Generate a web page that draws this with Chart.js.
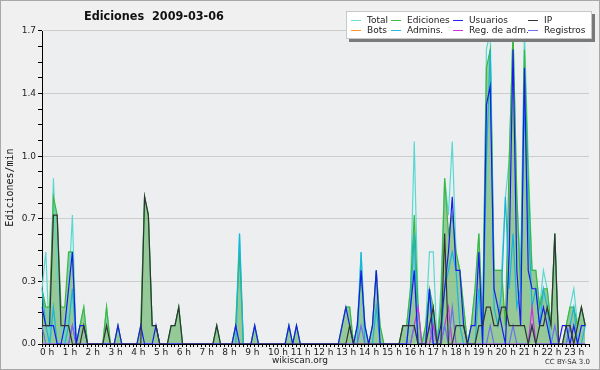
<!DOCTYPE html>
<html>
<head>
<meta charset="utf-8">
<script src="https://cdn.jsdelivr.net/npm/chart.js@4.4.1/dist/chart.umd.min.js"></script>
<style>
  html, body { margin: 0; padding: 0; background: #f0f0f0; }
  #wrap { position: relative; width: 600px; height: 370px; overflow: hidden; font-family: "DejaVu Sans", sans-serif; }
  #frame { position: absolute; left: 0; top: 0; width: 600px; height: 370px; box-sizing: border-box; border: 1px solid #a8a8a8; pointer-events: none; }
  canvas { position: absolute; left: 0; top: 0; }
  #title { position: absolute; left: 84px; top: 8px; font-family: "DejaVu Sans Condensed", "DejaVu Sans", sans-serif; font-stretch: condensed; font-weight: bold; font-size: 12.5px; color: #111; white-space: pre; }
  #legend { position: absolute; left: 346px; top: 11px; width: 244px; height: 26px; background: #fff; border: 1px solid #c8c8c8; box-shadow: 3px 3px 0 #7a7a7a; font-size: 9px; }
  .item { position: absolute; white-space: nowrap; color: #222; line-height: 10px; }
  .sw { display: inline-block; width: 10px; height: 1px; vertical-align: middle; margin-right: 6px; }
  #site { position: absolute; left: 0; width: 600px; text-align: center; top: 355px; font-size: 9px; color: #222; }
  #lic { position: absolute; right: 10px; top: 358px; font-size: 7px; color: #333; }
</style>
</head>
<body>
<div id="wrap">
  <canvas id="chart" width="600" height="370"></canvas>
  <div id="title">Ediciones  2009-03-06</div>
  <div id="legend"></div>
  <div id="site">wikiscan.org</div>
  <div id="lic">CC BY-SA 3.0</div>
  <div id="frame"></div>
</div>
<script>
// etiquetas de horas (cada 10 min hay una marca)
const hourLabels = ['0 h','1 h','2 h','3 h','4 h','5 h','6 h','7 h','8 h','9 h','10 h','11 h',
  '12 h','13 h','14 h','15 h','16 h','17 h','18 h','19 h','20 h','21 h','22 h','23 h'];
const yTickLabels = ['0.0', '0.3', '0.7', '1.0', '1.4', '1.7'];

// ediciones por minuto, intervalos de 10 min (6 por hora)
const total = [
  0.3,0.5,0,0.9,0.4,0.1,  0,0.3,0.7,0,0.1,0.2,
  0,0,0,0,0,0.2,  0,0,0.1,0,0,0,
  0,0,0.1,0.8,0.7,0.1,  0.1,0,0,0,0.1,0.1,
  0.2,0,0,0,0,0,  0,0,0,0,0.1,0,
  0,0,0,0.1,0.6,0,  0,0,0.1,0,0,0,
  0,0,0,0,0,0.1,  0,0.1,0,0,0,0,
  0,0,0,0,0,0,  0,0.1,0.2,0.2,0,0.1,
  0.5,0.1,0,0.1,0.4,0.1,  0,0,0,0,0,0.1,
  0.1,0.3,1.1,0.2,0,0.1,  0.5,0.5,0,0.3,0.9,0.7,
  1.1,0.5,0.4,0.2,0,0.1,  0.3,0.6,0.1,1.6,1.7,0.4,
  0.4,0.4,0.8,1.0,1.7,0.8,  0.4,1.7,1.0,0.4,0.4,0.2,
  0.4,0.3,0.1,0.6,0,0,  0.1,0.2,0.3,0.1,0.2,0.1
];
const ediciones = [
  0.3,0.2,0.2,0.8,0.7,0.2,  0.2,0.5,0.5,0,0.1,0.2,
  0,0,0,0,0,0.2,  0,0,0.1,0,0,0,
  0,0,0.1,0.8,0.7,0.1,  0.1,0,0,0,0.1,0.1,
  0.2,0,0,0,0,0,  0,0,0,0,0.1,0,
  0,0,0,0.1,0.5,0,  0,0,0.1,0,0,0,
  0,0,0,0,0,0.1,  0,0.1,0,0,0,0,
  0,0,0,0,0,0,  0,0.1,0.2,0.2,0,0.1,
  0.4,0.1,0,0.1,0.4,0.1,  0,0,0,0,0,0.1,
  0.1,0.3,0.7,0.2,0,0.1,  0.3,0.2,0,0.2,0.9,0.6,
  0.7,0.5,0.4,0.2,0,0.1,  0.3,0.6,0.1,1.5,1.6,0.4,
  0.4,0.4,0.1,1.0,1.7,0.8,  0.3,1.6,0.9,0.4,0.4,0.2,
  0.3,0.3,0.1,0.6,0,0,  0.1,0.2,0.2,0.1,0.2,0.1
];
const usuarios = [
  0.2,0.1,0.1,0.1,0,0,  0.1,0.3,0.5,0,0.1,0.1,
  0,0,0,0,0,0,  0,0,0.1,0,0,0,
  0,0,0.1,0,0,0,  0.1,0,0,0,0,0,
  0,0,0,0,0,0,  0,0,0,0,0,0,
  0,0,0,0.1,0,0,  0,0,0.1,0,0,0,
  0,0,0,0,0,0.1,  0,0.1,0,0,0,0,
  0,0,0,0,0,0,  0,0.1,0.2,0.1,0,0.1,
  0.4,0.1,0,0.1,0.4,0,  0,0,0,0,0,0,
  0,0.2,0.4,0,0,0,  0.3,0,0,0.1,0.3,0.5,
  0.8,0.4,0.4,0.1,0,0.1,  0.1,0.5,0,1.3,1.4,0.3,
  0.2,0.1,0,0.5,1.6,0.4,  0.1,1.5,0.4,0.3,0.3,0.1,
  0.2,0.1,0,0,0,0.1,  0.1,0,0.1,0,0.1,0.1
];
const ip = [
  0.1,0.1,0.1,0.7,0.7,0.1,  0.1,0.1,0,0,0,0.1,
  0,0,0,0,0,0.1,  0,0,0,0,0,0,
  0,0,0,0.8,0.7,0.1,  0.1,0,0,0,0.1,0.1,
  0.2,0,0,0,0,0,  0,0,0,0,0.1,0,
  0,0,0,0,0,0,  0,0,0,0,0,0,
  0,0,0,0,0,0,  0,0,0,0,0,0,
  0,0,0,0,0,0,  0,0,0,0.1,0,0,
  0,0,0,0,0,0,  0,0,0,0,0,0.1,
  0.1,0.1,0.1,0,0,0,  0.1,0.2,0,0,0.6,0,
  0,0.1,0.1,0.1,0,0,  0,0.1,0.1,0.2,0.2,0.1,
  0.1,0.2,0.2,0.1,0.1,0.1,  0.1,0.1,0,0.1,0,0.1,
  0.1,0.2,0.1,0.6,0,0,  0.1,0.1,0,0.1,0.2,0.1
];
const admins = [
  0.3,0.1,0,0.2,0,0,  0,0.1,0.3,0,0,0,
  0,0,0,0,0,0,  0,0,0,0,0,0,
  0,0,0,0,0,0,  0,0,0,0,0,0,
  0,0,0,0,0,0,  0,0,0,0,0,0,
  0,0,0,0,0.6,0,  0,0,0,0,0,0,
  0,0,0,0,0,0,  0,0,0,0,0,0,
  0,0,0,0,0,0,  0,0,0,0,0,0,
  0.5,0,0,0,0.2,0,  0,0,0,0,0,0,
  0,0.2,0.6,0,0,0,  0.3,0.1,0,0,0.3,0.4,
  0.5,0.4,0.1,0,0,0,  0,0.3,0,1.0,1.6,0.2,
  0.1,0.3,0.8,0.3,0.6,0.2,  0.3,1.3,0.7,0.2,0.3,0.1,
  0.3,0.2,0,0,0,0,  0,0.1,0.2,0,0,0.1
];
const registros = [
  0.1,0,0,0,0,0,  0,0,0.1,0,0,0,
  0,0,0,0,0,0,  0,0,0,0,0,0,
  0,0,0,0,0,0,  0,0,0,0,0,0,
  0,0,0,0,0,0,  0,0,0,0,0,0,
  0,0,0,0,0,0,  0,0,0,0,0,0,
  0,0,0,0,0,0,  0,0,0,0,0,0,
  0,0,0,0,0,0,  0,0,0,0,0,0,
  0.1,0,0,0,0,0,  0,0,0,0,0,0,
  0,0,0.1,0,0,0,  0.1,0,0,0,0.1,0,
  0.2,0,0,0,0,0,  0,0,0,0,0.1,0,
  0,0,0,0,0.1,0,  0,0,0,0.1,0,0,
  0,0,0,0.1,0,0,  0,0.1,0,0,0,0
];
const regAdm = [
  0,0,0,0,0,0,  0,0,0.1,0,0,0,
  0,0,0,0,0,0,  0,0,0,0,0,0,
  0,0,0,0,0,0,  0,0,0,0,0,0,
  0,0,0,0,0,0,  0,0,0,0,0,0,
  0,0,0,0,0,0,  0,0,0,0,0,0,
  0,0,0,0,0,0,  0,0,0,0,0,0,
  0,0,0,0,0,0,  0,0,0,0,0,0,
  0,0,0,0,0,0,  0,0,0,0,0,0,
  0,0,0.1,0.2,0,0,  0,0.1,0,0,0.1,0.2,
  0,0,0,0,0,0,  0,0,0,0,0,0,
  0,0,0,0,0,0,  0,0,0,0.2,0,0,
  0,0,0,0,0,0,  0,0,0,0,0,0
];

const legendItems = [
  ['Total', '#66dcd4'], ['Ediciones', '#44bb44'], ['Usuarios', '#2222ee'], ['IP', '#333333'],
  ['Bots', '#ff9922'], ['Admins.', '#22bbdd'], ['Reg. de adm.', '#cc33dd'], ['Registros', '#6f6ff0']
];

// 145 marcas: una etiqueta por hora, vacías entre medio
const slotLabels = [];
hourLabels.forEach(h => { slotLabels.push(h, '', '', '', '', ''); });
slotLabels.push('');

// yticks cada 0.085 (4 por tramo de grid)
const yTickValues = [];
for (let k = 0; k <= 20; k++) yTickValues.push(k * 0.085);

function buildLegend() {
  const box = document.getElementById('legend');
  const colX = [4, 44, 106, 181];
  const rowY = [3, 12.5];
  legendItems.forEach(([name, color], i) => {
    const el = document.createElement('div');
    el.className = 'item';
    el.style.left = colX[i % 4] + 'px';
    el.style.top = rowY[Math.floor(i / 4)] + 'px';
    el.innerHTML = `<span class="sw" style="background:${color}"></span>${name}`;
    box.appendChild(el);
  });
}

const plotBg = {
  id: 'plotBg',
  beforeDraw(chart) {
    const { ctx, chartArea: a } = chart;
    ctx.save();
    ctx.fillStyle = '#edeef0';
    ctx.fillRect(a.left, a.top, a.right - a.left, a.bottom - a.top);
    ctx.restore();
  }
};

function line(label, data, color, extra) {
  return Object.assign({ label, data, borderColor: color, borderWidth: 1.2, fill: false, pointRadius: 0, tension: 0 }, extra || {});
}

Chart.defaults.font.family = 'DejaVu Sans';

new Chart(document.getElementById('chart'), {
  type: 'line',
  data: {
    labels: slotLabels,
    datasets: [
      line('IP', ip, '#333333'),
      line('Usuarios', usuarios, '#1a1aee'),
      line('Registros', registros, '#6f6ff0'),
      line('Reg. de adm.', regAdm, '#cc33dd'),
      line('Admins.', admins, '#18b4dc'),
      line('Ediciones', ediciones, '#3cb83c', { fill: 'origin', backgroundColor: 'rgba(50,160,50,0.47)' }),
      line('Total', total, '#5ad8d0')
    ]
  },
  options: {
    responsive: false,
    animation: false,
    layout: { padding: { left: 0, right: 11, top: 31, bottom: 14 } },
    plugins: {
      legend: { display: false },
      tooltip: { enabled: false },
      filler: { drawTime: 'beforeDatasetsDraw' }
    },
    scales: {
      x: {
        offset: false,
        z: 1,
        border: { color: '#000', width: 1 },
        grid: { drawOnChartArea: false, tickLength: 3, tickColor: '#000' },
        ticks: { autoSkip: false, maxRotation: 0, minRotation: 0, padding: 0, align: 'start', labelOffset: -2, color: '#222', font: { size: 9 } },
        afterFit: s => { s.height = 12; }
      },
      y: {
        min: 0,
        max: 1.7,
        afterBuildTicks: s => { s.ticks = yTickValues.map(v => ({ value: v })); },
        afterFit: s => { s.width = 42; },
        border: { color: '#000', width: 1 },
        grid: {
          color: c => (c.index % 4 === 0 && c.index > 0) ? '#cdcdcd' : 'rgba(0,0,0,0)',
          tickColor: '#000',
          tickLength: 4
        },
        ticks: {
          padding: 2,
          color: '#222',
          font: { size: 9 },
          callback: (v, i) => i % 4 === 0 ? yTickLabels[i / 4] : ''
        },
        title: { display: true, text: 'Ediciones/min', color: '#111', font: { family: 'DejaVu Sans Mono', size: 10 }, padding: { top: 4, bottom: 0 } }
      }
    }
  },
  plugins: [plotBg]
});

buildLegend();
</script>
</body>
</html>
